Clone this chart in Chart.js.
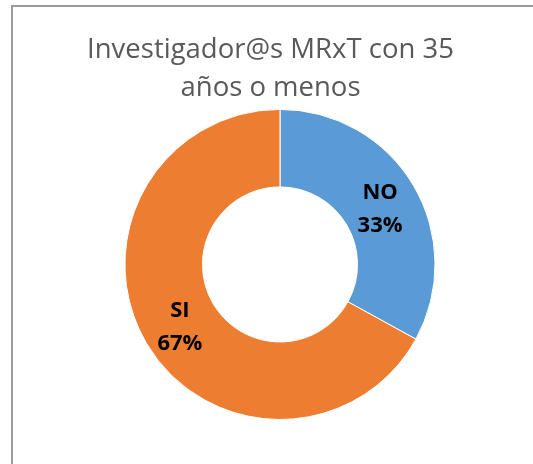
<!DOCTYPE html>
<html>
<head>
<meta charset="utf-8">
<script src="https://cdn.jsdelivr.net/npm/chart.js@4"></script>
<style>
  html, body { margin: 0; padding: 0; background: #fff; overflow: hidden; }
  #frame {
    position: absolute; left: 11px; top: 5px; width: 600px; height: 600px;
    border: 2px solid #9b9b9b; box-sizing: border-box;
  }
  #wrap { position: absolute; left: 0; top: 0; width: 533px; height: 464px; }
</style>
</head>
<body>
<div id="frame"></div>
<div id="wrap"><canvas id="chart"></canvas></div>
<script>
const labels = ["NO", "SI"];
const values = [33, 67];
const colors = ["#5B9BD5", "#ED7D31"];
const titleLines = ["Investigador@s MRxT con 35", "años o menos"];

// draws "NO 33%" style labels inside each slice
const sliceLabels = {
  id: "sliceLabels",
  afterLayout(chart) {
    // title sits a bit left of the donut centre
    if (chart.titleBlock) chart.titleBlock.left -= 19;
  },
  afterDatasetsDraw(chart) {
    const ctx = chart.ctx;
    const meta = chart.getDatasetMeta(0);
    const total = values.reduce((a, b) => a + b, 0);
    ctx.save();
    ctx.fillStyle = "#000";
    ctx.font = "bold 22px 'Open Sans', sans-serif";
    ctx.textAlign = "center";
    ctx.textBaseline = "middle";
    meta.data.forEach((arc, i) => {
      const p = arc.tooltipPosition();
      const pct = Math.round(values[i] / total * 100) + "%";
      ctx.fillText(labels[i], p.x, p.y - 13);
      ctx.fillText(pct, p.x, p.y + 20);
    });
    ctx.restore();
  }
};

new Chart(document.getElementById("chart"), {
  type: "doughnut",
  data: {
    labels,
    datasets: [{
      data: values,
      backgroundColor: colors,
      borderColor: "#fff",
      borderWidth: 1
    }]
  },
  options: {
    responsive: true,
    maintainAspectRatio: false,
    animation: false,
    cutout: "50%",
    layout: { padding: { left: 60, right: 33, top: 0, bottom: 44 } },
    plugins: {
      legend: { display: false },
      tooltip: { enabled: false },
      title: {
        display: true,
        text: titleLines,
        color: "#595959",
        font: { family: "'Open Sans', sans-serif", size: 27.5, weight: "normal", lineHeight: 1.38 },
        padding: { top: 31, bottom: 2 }
      }
    }
  },
  plugins: [sliceLabels]
});
</script>
</body>
</html>
